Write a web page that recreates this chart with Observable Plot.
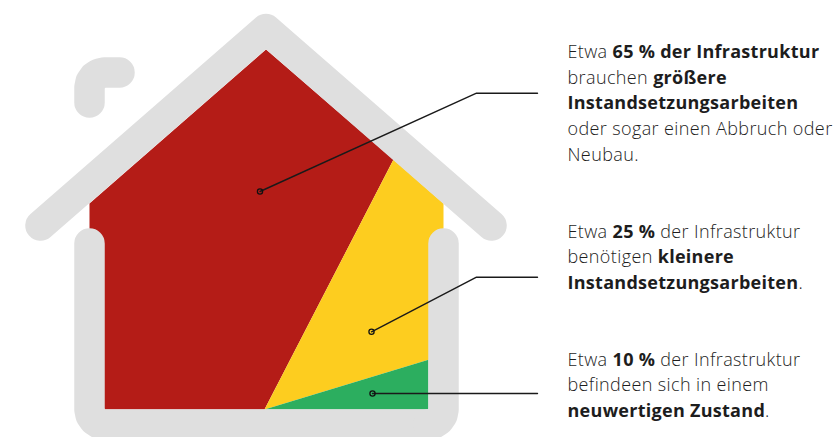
<!DOCTYPE html>
<html lang="de">
<head>
<meta charset="utf-8">
<script src="https://cdn.jsdelivr.net/npm/d3@7"></script>
<script src="https://cdn.jsdelivr.net/npm/@observablehq/plot@0.6"></script>
<style>
html,body{margin:0;padding:0;background:#fff;overflow:hidden}
svg{display:block}
</style>
</head>
<body>
<div id="chart"></div>
<script>
// Shape outlines in picture units
const redX = [89, 265.5, 393, 264, 89];
const redY = [203, 49, 159, 409, 409];
const yellowX = [393, 443, 443, 428, 264];
const yellowY = [159, 203, 359, 359.3, 409];
const greenX = [264, 428, 428];
const greenY = [409, 359.3, 409];
const roofX = [40, 265.5, 491];
const roofY = [225, 28.5, 225];
const leftWallX = [89, 89, 90.1, 93.4, 98.3, 104, 443 - 15];
const leftWallY = [243, 409, 414.7, 419.6, 422.9, 424, 424];
const rightWallX = [428, 433.7, 438.6, 441.9, 443, 443];
const rightWallY = [424, 422.9, 419.6, 414.7, 409, 243];
const chimneyX = [89, 89, 90.1, 93.4, 98.3, 104, 119];
const chimneyY = [102, 87, 81.3, 76.4, 73.1, 72, 72];
const leaderX = [[259.5, 476, 537], [371, 476, 537], [372, 537]];
const leaderY = [[191, 92.7, 92.7], [331.3, 276.7, 276.7], [393, 393]];

// Text lines; * toggles bold
const shares = [65, 25, 10];
const textLines = [
  `Etwa *${shares[0]} % der Infrastruktur*`,
  "brauchen *größere*",
  "*Instandsetzungsarbeiten*",
  "oder sogar einen Abbruch oder",
  "Neubau.",
  `Etwa *${shares[1]} %* der Infrastruktur`,
  "benötigen *kleinere*",
  "*Instandsetzungsarbeiten*.",
  `Etwa *${shares[2]} %* der Infrastruktur`,
  "befindeen sich in einem",
  "*neuwertigen Zustand*."
];
const textY = [57.3, 83, 108.8, 134.7, 160.6, 237.7, 262.8, 288.2, 365, 390.2, 416];
const textX = 567;

const pts = (xs, ys) => xs.map((x, i) => ({x, y: ys[i]}));
const shape = (xs, ys, fill) => Plot.line(pts(xs, ys), {x: "x", y: "y", fill, stroke: "none"});
const bar = (xs, ys) => Plot.line(pts(xs, ys), {
  x: "x", y: "y", stroke: "#dfdfdf", strokeWidth: 30.5, strokeLinecap: "round", strokeLinejoin: "round"
});

const leaders = leaderX.flatMap((xs, i) => [
  Plot.line(pts(xs, leaderY[i]), {x: "x", y: "y", stroke: "#1a1a1a", strokeWidth: 1.4}),
  Plot.dot([{x: xs[0], y: leaderY[i][0]}], {x: "x", y: "y", r: 2.6, stroke: "#111", strokeWidth: 1.3, fill: "none"})
]);

const chart = Plot.plot({
  width: 840,
  height: 437,
  margin: 0,
  x: {domain: [0, 840], range: [0, 840], axis: null},
  y: {domain: [0, 437], range: [0, 437], axis: null},
  marks: [
    shape(redX, redY, "#b41c17"),
    shape(yellowX, yellowY, "#fdcd1f"),
    shape(greenX, greenY, "#2cae5f"),
    bar(roofX, roofY),
    bar(leftWallX, leftWallY),
    bar(rightWallX, rightWallY),
    bar(chimneyX, chimneyY),
    ...leaders,
    Plot.text(textLines, {
      x: () => textX,
      y: (d, i) => textY[i],
      text: d => d,
      textAnchor: "start",
      lineAnchor: "bottom",
      fill: "#1d1d1d",
      fontSize: 18,
      fontWeight: 300,
      fontFamily: "'Open Sans', sans-serif"
    })
  ]
});

// Turn the * markers into bold runs, still as real text
d3.select(chart).selectAll("text").filter(function () {
  return this.textContent.length > 0 && !this.querySelector("tspan");
}).each(function () {
  const el = d3.select(this);
  const runs = this.textContent.split("*");
  el.text(null);
  runs.forEach((r, i) => {
    if (r) el.append("tspan")
      .attr("font-weight", i % 2 ? 700 : 300)
      .attr("letter-spacing", i % 2 ? 0.28 : 0.38)
      .text(r);
  });
});

document.getElementById("chart").appendChild(chart);
</script>
</body>
</html>
